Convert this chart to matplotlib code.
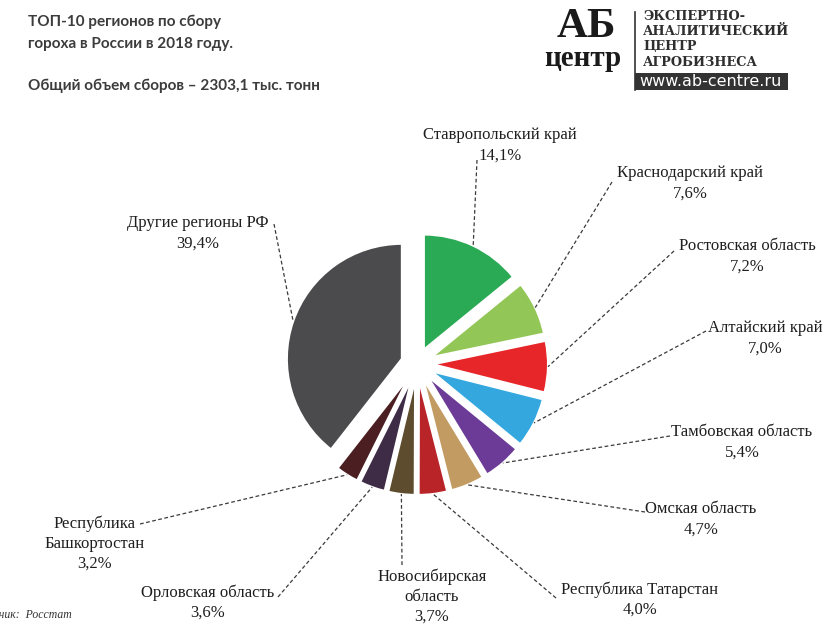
import numpy as np
import matplotlib
matplotlib.use("Agg")
import matplotlib.pyplot as plt
from matplotlib.patches import Rectangle

# --- data -------------------------------------------------------------
regions = [
    "Ставропольский край",
    "Краснодарский край",
    "Ростовская область",
    "Алтайский край",
    "Тамбовская область",
    "Омская область",
    "Республика Татарстан",
    "Новосибирская\nобласть",
    "Орловская область",
    "Республика\nБашкортостан",
    "Другие регионы РФ",
]
shares = [14.1, 7.6, 7.2, 7.0, 5.4, 4.7, 4.0, 3.7, 3.6, 3.2, 39.4]
colors = ["#2BAA55", "#92C656", "#E62629", "#34A8DE", "#6C3A97",
          "#C29B63", "#B92428", "#5E4C2E", "#3E2C46", "#4B1E22", "#4B4B4D"]

title_lines = ["ТОП-10 регионов по сбору", "гороха в России в 2018 году."]
subtitle = "Общий объем сборов – 2303,1 тыс. тонн"
source = "Источник:  Росстат"

# --- layout (pixel canvas, y measured from top) -------------------------
W, H = 827, 626
def Y(y):
    return H - y

# label text centre (x, y of first line) and the point where the leader starts
label_pos = [
    ((500, 135), (477, 160)),
    ((690, 173), (612, 182)),
    ((747, 246), (674, 251)),
    ((765, 328), (706, 331)),
    ((742, 432), (670, 436)),
    ((701, 509), (645, 512)),
    ((640, 589), (556, 598)),
    ((432, 576), (402, 565)),
    ((208, 592), (278, 597)),
    ((95, 523), (140, 524)),
    ((198, 223), (274, 224)),
]
line_step = 20.5

fig = plt.figure(figsize=(W / 100, H / 100), dpi=100)
ax = fig.add_axes([0, 0, 1, 1])

wedges, _ = ax.pie(
    shares, colors=colors, startangle=90, counterclock=False,
    radius=115, center=(417, Y(364)), explode=[16] * len(shares),
    wedgeprops=dict(edgecolor="white", linewidth=1.5),
)
ax.set_xlim(0, W)
ax.set_ylim(0, H)
ax.set_aspect("equal")
ax.axis("off")

serif = ["Liberation Serif", "DejaVu Serif"]
for w, name, val, ((tx, ty), (lx, ly)) in zip(wedges, regions, shares, label_pos):
    mid = np.deg2rad((w.theta1 + w.theta2) / 2)
    cx, cy = w.center
    px, py = cx + w.r * np.cos(mid), cy + w.r * np.sin(mid)
    ax.plot([lx, px], [Y(ly), py], color="#3a3a3a", lw=0.9,
            linestyle=(0, (3, 2)), solid_capstyle="butt")
    text = name + "\n" + f"{val:.1f}".replace(".", ",") + "%"
    n_lines = text.count("\n") + 1
    yc = ty + (n_lines - 1) * line_step / 2
    ax.text(tx, Y(yc), text, ha="center", va="center",
            fontsize=12, family=serif, color="#1e1e1e",
            linespacing=1.33, multialignment="center")

# --- heading ------------------------------------------------------------
sans = ["Lato", "DejaVu Sans"]
for txt, yy in [(title_lines[0], 22), (title_lines[1], 44), (subtitle, 86)]:
    ax.text(28, Y(yy), txt, ha="left", va="center", fontsize=11,
            fontweight="bold", family=sans, color="#3c3c3c")

# --- logo -----------------------------------------------------------------
ax.text(586, Y(27), "АБ", ha="center", va="center", fontsize=31,
        fontweight="bold", family=serif, color="#1a1a1a")
ax.text(583, Y(58), "центр", ha="center", va="center", fontsize=21,
        fontweight="bold", family=serif, color="#1a1a1a")
ax.plot([635, 635], [Y(12), Y(90)], color="#333333", lw=1.2)
slab = ["DejaVu Serif"]
for i, s in enumerate(["ЭКСПЕРТНО-", "АНАЛИТИЧЕСКИЙ", "ЦЕНТР", "АГРОБИЗНЕСА"]):
    ax.text(643, Y(16 + i * 15.5), s, ha="left", va="center", fontsize=9.3,
            fontweight="bold", family=slab, color="#2e2e2e")
ax.add_patch(Rectangle((635, Y(90)), 153, 17, facecolor="#333333",
                       edgecolor="none"))
ax.text(711, Y(82), "www.ab-centre.ru", ha="center", va="center",
        fontsize=11.5, family=["DejaVu Sans"], color="white")

# --- source note ------------------------------------------------------------
ax.text(72, Y(615), source, ha="right", va="center", fontsize=8.5,
        style="italic", family=serif, color="#333333")

fig.savefig("out.png", dpi=100)
